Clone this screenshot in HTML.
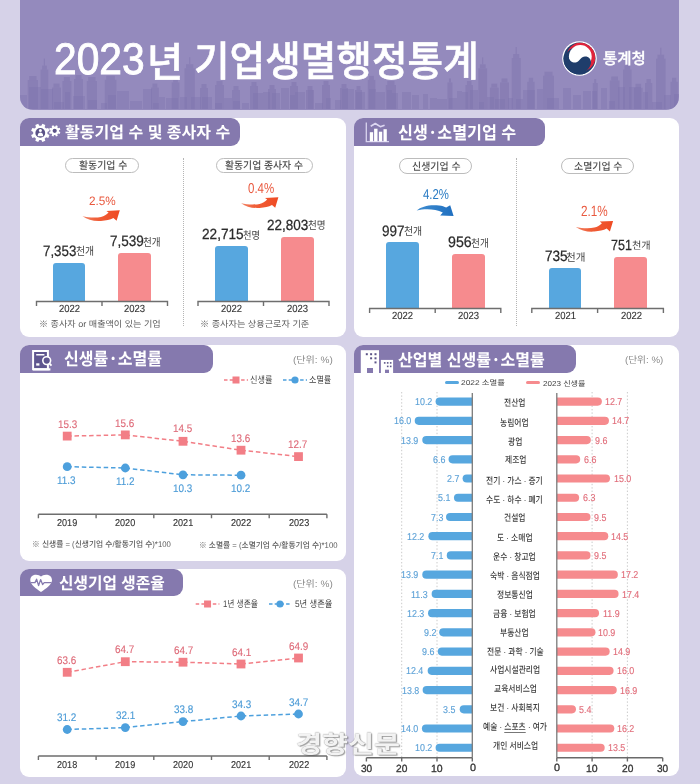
<!DOCTYPE html><html lang="ko"><head><meta charset="utf-8"><title>2023년 기업생멸행정통계</title><style>
*{margin:0;padding:0;box-sizing:border-box}
html,body{width:700px;height:784px;overflow:hidden}
body{background:#d6d2e8;position:relative;font-family:'Liberation Sans','Noto Sans CJK KR',sans-serif;color:#333333}
.a{position:absolute}
.t{position:absolute;white-space:nowrap;line-height:1;transform-origin:0 0;text-rendering:geometricPrecision}
.panel{position:absolute;background:#fff;border-radius:9px}
.tab{position:absolute;background:#8579ae}
.pill{position:absolute;border:1.6px solid #bcbcbc;border-radius:8px;background:#fff}
.bar{position:absolute;border-radius:3px 3px 0 0}
</style></head><body>
<div class="a" style="left:20px;top:-20px;width:659px;height:129.5px;background:#948abd;border-radius:0 0 13px 13px;overflow:hidden"><svg class="a" style="left:0;top:0" width="659" height="129.5" viewBox="0 0 659 129.5"><g fill="#7f74ad" opacity="0.38"><rect x="-2" y="115" width="9" height="14"/><rect x="9" y="107" width="12" height="22"/><rect x="21" y="109" width="12" height="20"/><rect x="34" y="122" width="10" height="7"/><rect x="45" y="112" width="5" height="17"/><rect x="53" y="116" width="12" height="13"/><rect x="68" y="120" width="9" height="9"/><rect x="81" y="123" width="6" height="6"/><rect x="88" y="115" width="8" height="14"/><rect x="97" y="111" width="12" height="18"/><rect x="110" y="121" width="12" height="8"/><rect x="123" y="109" width="9" height="20"/><rect x="133" y="123" width="6" height="6"/><rect x="139" y="117" width="6" height="12"/><rect x="146" y="118" width="12" height="11"/><rect x="160" y="117" width="7" height="12"/><rect x="171" y="117" width="10" height="12"/><rect x="182" y="117" width="10" height="12"/><rect x="195" y="123" width="7" height="6"/><rect x="204" y="118" width="8" height="11"/><rect x="213" y="121" width="7" height="8"/><rect x="222" y="123" width="7" height="6"/><rect x="233" y="113" width="10" height="16"/><rect x="243" y="112" width="7" height="17"/><rect x="252" y="113" width="8" height="16"/><rect x="261" y="108" width="8" height="21"/><rect x="270" y="115" width="5" height="14"/><rect x="275" y="112" width="10" height="17"/><rect x="288" y="110" width="5" height="19"/><rect x="295" y="123" width="8" height="6"/><rect x="306" y="118" width="5" height="11"/><rect x="315" y="120" width="6" height="9"/><rect x="322" y="109" width="12" height="20"/><rect x="336" y="112" width="9" height="17"/><rect x="349" y="109" width="7" height="20"/><rect x="356" y="112" width="9" height="17"/><rect x="367" y="110" width="5" height="19"/><rect x="372" y="113" width="6" height="16"/><rect x="382" y="112" width="9" height="17"/><rect x="392" y="115" width="7" height="14"/><rect x="403" y="114" width="5" height="15"/><rect x="410" y="118" width="7" height="11"/><rect x="417" y="119" width="10" height="10"/><rect x="429" y="118" width="8" height="11"/><rect x="437" y="111" width="5" height="18"/><rect x="442" y="112" width="6" height="17"/><rect x="450" y="110" width="8" height="19"/><rect x="459" y="122" width="5" height="7"/><rect x="467" y="117" width="7" height="12"/><rect x="475" y="119" width="10" height="10"/><rect x="488" y="118" width="5" height="11"/><rect x="496" y="119" width="7" height="10"/><rect x="503" y="110" width="12" height="19"/><rect x="517" y="109" width="6" height="20"/><rect x="527" y="118" width="12" height="11"/><rect x="543" y="108" width="8" height="21"/><rect x="553" y="115" width="8" height="14"/><rect x="563" y="111" width="8" height="18"/><rect x="572" y="111" width="5" height="18"/><rect x="581" y="108" width="6" height="21"/><rect x="589" y="121" width="6" height="8"/><rect x="598" y="107" width="7" height="22"/><rect x="609" y="107" width="12" height="22"/><rect x="623" y="112" width="5" height="17"/><rect x="632" y="122" width="10" height="7"/><rect x="644" y="115" width="7" height="14"/><rect x="654" y="114" width="7" height="15"/></g><g fill="#7f74ad" opacity="0.5"><rect x="7.7" y="100.0" width="10.3" height="29.0"/><rect x="9.2" y="96.0" width="7.3" height="4.2"/><rect x="20.6" y="89.6" width="7.7" height="39.4"/><rect x="22.1" y="85.6" width="4.7" height="4.2"/><rect x="23.8" y="78.6" width="1.2" height="7.2"/><rect x="32.0" y="107.6" width="9.0" height="21.4"/><rect x="33.5" y="103.6" width="6.0" height="4.2"/><rect x="42.4" y="101.0" width="9.0" height="28.0"/><rect x="43.9" y="97.0" width="6.0" height="4.2"/><rect x="54.0" y="99.0" width="9.0" height="30.0"/><rect x="55.5" y="95.0" width="6.0" height="4.2"/><rect x="66.8" y="101.0" width="10.2" height="28.0"/><rect x="68.3" y="97.0" width="7.2" height="4.2"/><rect x="84.8" y="99.8" width="11.6" height="29.2"/><rect x="86.3" y="95.8" width="8.6" height="4.2"/><rect x="131.0" y="107.6" width="7.8" height="21.4"/><rect x="132.5" y="103.6" width="4.8" height="4.2"/><rect x="151.7" y="102.4" width="7.7" height="26.6"/><rect x="153.2" y="98.4" width="4.7" height="4.2"/><rect x="164.5" y="88.3" width="10.3" height="40.7"/><rect x="166.0" y="84.3" width="7.3" height="4.2"/><rect x="169.1" y="77.3" width="1.2" height="7.2"/><rect x="180.0" y="108.0" width="8.0" height="21.0"/><rect x="181.5" y="104.0" width="5.0" height="4.2"/><rect x="195.0" y="105.0" width="9.0" height="24.0"/><rect x="196.5" y="101.0" width="6.0" height="4.2"/><rect x="212.0" y="110.0" width="8.0" height="19.0"/><rect x="213.5" y="106.0" width="5.0" height="4.2"/><rect x="230.0" y="106.0" width="8.0" height="23.0"/><rect x="231.5" y="102.0" width="5.0" height="4.2"/><rect x="248.0" y="109.0" width="8.0" height="20.0"/><rect x="249.5" y="105.0" width="5.0" height="4.2"/><rect x="270.0" y="106.0" width="8.0" height="23.0"/><rect x="271.5" y="102.0" width="5.0" height="4.2"/><rect x="286.0" y="110.0" width="8.0" height="19.0"/><rect x="287.5" y="106.0" width="5.0" height="4.2"/><rect x="302.0" y="105.0" width="8.0" height="24.0"/><rect x="303.5" y="101.0" width="5.0" height="4.2"/><rect x="320.0" y="108.0" width="8.0" height="21.0"/><rect x="321.5" y="104.0" width="5.0" height="4.2"/><rect x="335.0" y="110.0" width="7.0" height="19.0"/><rect x="336.5" y="106.0" width="4.0" height="4.2"/><rect x="347.7" y="99.8" width="7.7" height="29.2"/><rect x="349.2" y="95.8" width="4.7" height="4.2"/><rect x="365.7" y="105.0" width="10.3" height="24.0"/><rect x="367.2" y="101.0" width="7.3" height="4.2"/><rect x="427.4" y="102.4" width="5.1" height="26.6"/><rect x="428.9" y="98.4" width="2.1" height="4.2"/><rect x="445.4" y="105.0" width="7.6" height="24.0"/><rect x="446.9" y="101.0" width="4.6" height="4.2"/><rect x="458.3" y="88.3" width="8.9" height="40.7"/><rect x="459.8" y="84.3" width="5.9" height="4.2"/><rect x="462.1" y="77.3" width="1.2" height="7.2"/><rect x="469.8" y="107.6" width="9.0" height="21.4"/><rect x="471.3" y="103.6" width="6.0" height="4.2"/><rect x="480.0" y="102.4" width="9.0" height="26.6"/><rect x="481.5" y="98.4" width="6.0" height="4.2"/><rect x="491.7" y="78.0" width="9.0" height="51.0"/><rect x="493.2" y="74.0" width="6.0" height="4.2"/><rect x="495.6" y="67.0" width="1.2" height="7.2"/><rect x="507.3" y="101.8" width="7.3" height="27.2"/><rect x="508.8" y="97.8" width="4.3" height="4.2"/><rect x="523.0" y="95.7" width="11.0" height="33.3"/><rect x="524.5" y="91.7" width="8.0" height="4.2"/><rect x="572.8" y="103.0" width="4.9" height="26.0"/><rect x="574.3" y="99.0" width="1.9" height="4.2"/><rect x="589.8" y="100.5" width="9.7" height="28.5"/><rect x="591.3" y="96.5" width="6.7" height="4.2"/><rect x="603.0" y="89.6" width="8.6" height="39.4"/><rect x="604.5" y="85.6" width="5.6" height="4.2"/><rect x="606.7" y="78.6" width="1.2" height="7.2"/><rect x="614.0" y="107.8" width="8.6" height="21.2"/><rect x="615.5" y="103.8" width="5.6" height="4.2"/><rect x="625.0" y="103.0" width="7.3" height="26.0"/><rect x="626.5" y="99.0" width="4.3" height="4.2"/><rect x="636.0" y="78.7" width="9.6" height="50.3"/><rect x="637.5" y="74.7" width="6.6" height="4.2"/><rect x="640.2" y="67.7" width="1.2" height="7.2"/><rect x="650.5" y="101.8" width="7.3" height="27.2"/><rect x="652.0" y="97.8" width="4.3" height="4.2"/></g></svg></div><svg class="a" style="left:562px;top:40.5px" width="35" height="35" viewBox="-17.5 -17.5 35 35">
<defs><clipPath id="lc"><circle r="16"/></clipPath></defs>
<circle r="17.3" fill="#fff"/>
<circle r="16" fill="#1f3d6b"/>
<g clip-path="url(#lc)">
<circle cx="1.5" cy="-1.5" r="14.5" fill="#e0243c"/>
<circle cx="-1.8" cy="1.8" r="13.3" fill="#1f3d6b"/>
<circle cx="0.8" cy="-2" r="11.4" fill="#fff"/>
<path d="M-18,-3 L-11.5,-3 C-10.5,3 -6,4.8 -3,3.8 C0,2.8 1.5,-1.8 5.5,-1.9 C9.5,-2 11.6,1 11.4,4 C11.2,7.5 9,10.5 6,13 L6,18 L-18,18 Z" fill="#1f3d6b"/>
</g></svg><div class="panel" style="left:20px;top:118px;width:326px;height:219px"></div><div class="panel" style="left:354px;top:118px;width:325px;height:219px"></div><div class="panel" style="left:20px;top:345px;width:326px;height:215.5px"></div><div class="panel" style="left:20px;top:569px;width:326px;height:208px"></div><div class="panel" style="left:354px;top:345px;width:325px;height:431px"></div><div class="tab" style="left:20px;top:118px;width:219.5px;height:27.6px;border-radius:9px 9px 9px 0"></div><div class="tab" style="left:354px;top:118px;width:191px;height:28px;border-radius:9px 9px 9px 0"></div><div class="tab" style="left:20px;top:345px;width:193px;height:28px;border-radius:9px 9px 9px 0"></div><div class="tab" style="left:20px;top:569px;width:163px;height:27px;border-radius:9px 9px 9px 0"></div><div class="tab" style="left:354px;top:345px;width:222px;height:28px;border-radius:9px 9px 9px 0"></div><svg class="a" style="left:0;top:0" width="700" height="784" viewBox="0 0 700 784">
<path d="M47.43,133.91 L49.46,134.99 L48.26,137.90 L46.05,137.23 L44.63,138.65 L45.30,140.86 L42.39,142.06 L41.31,140.03 L39.29,140.03 L38.21,142.06 L35.30,140.86 L35.97,138.65 L34.55,137.23 L32.34,137.90 L31.14,134.99 L33.17,133.91 L33.17,131.89 L31.14,130.81 L32.34,127.90 L34.55,128.57 L35.97,127.15 L35.30,124.94 L38.21,123.74 L39.29,125.77 L41.31,125.77 L42.39,123.74 L45.30,124.94 L44.63,127.15 L46.05,128.57 L48.26,127.90 L49.46,130.81 L47.43,131.89Z" fill="#fff"/><circle cx="40.3" cy="132.9" r="4.9" fill="#5b5288"/>
<circle cx="40.4" cy="130.6" r="1.5" fill="#fff"/><path d="M37.6,136.2 C37.8,133.4 39,132.6 40.4,132.6 C41.8,132.6 43,133.4 43.2,136.2Z" fill="#fff"/>
<path d="M58.96,131.40 L60.35,132.09 L59.61,133.88 L58.14,133.38 L57.28,134.24 L57.78,135.71 L55.99,136.45 L55.30,135.06 L54.10,135.06 L53.41,136.45 L51.62,135.71 L52.12,134.24 L51.26,133.38 L49.79,133.88 L49.05,132.09 L50.44,131.40 L50.44,130.20 L49.05,129.51 L49.79,127.72 L51.26,128.22 L52.12,127.36 L51.62,125.89 L53.41,125.15 L54.10,126.54 L55.30,126.54 L55.99,125.15 L57.78,125.89 L57.28,127.36 L58.14,128.22 L59.61,127.72 L60.35,129.51 L58.96,130.20Z" fill="#fff"/><circle cx="54.7" cy="130.8" r="2.1" fill="#5b5288"/>
<!-- chart icon -->
<path d="M366.3,122.6 V141.6 H389" stroke="#d9d3ef" stroke-width="1.3" fill="none"/>
<rect x="369.8" y="132.2" width="3.3" height="9.2" fill="#fff"/>
<rect x="374.1" y="128.7" width="3.4" height="12.7" fill="#fff"/>
<rect x="378.9" y="131.7" width="3.3" height="9.7" fill="#fff"/>
<rect x="383.5" y="129.2" width="3.3" height="12.2" fill="#fff"/>
<path d="M370.7,126.2 L375.3,123.5 L380.3,126.7 L384.6,125.2" stroke="#ddd7f2" stroke-width="1.6" fill="none" stroke-linejoin="round"/>
<!-- doc icon -->
<path d="M33.1,351.1 H47.9 V369.3 H33.1 Z" stroke="#fff" stroke-width="2" fill="#5f568f"/>
<rect x="33" y="368.3" width="17.4" height="2.2" fill="#fff"/>
<rect x="36.2" y="354" width="8.2" height="1.5" fill="#fff"/>
<rect x="36.2" y="363.3" width="3.2" height="2.3" fill="#fff"/>
<circle cx="46.7" cy="360.6" r="3.9" fill="#5f568f" stroke="#fff" stroke-width="1.6"/>
<path d="M49.3,363.3 L51.5,365.7" stroke="#fff" stroke-width="1.8"/>
<!-- heart -->
<path d="M41,576.6 C39,573.8 30.2,573.2 30.3,580.2 C30.4,584.5 36,588.5 41,592 C46,588.5 51.9,584.5 52,580.2 C52.1,573.2 43,573.8 41,576.6Z" fill="#fff"/>
<path d="M31,582.6 H35 L36.6,579.2 L38.6,585.6 L40.6,579.6 L42.6,584.6 L44.2,582.6 H51.5" stroke="#8579ae" stroke-width="1.3" fill="none" stroke-linejoin="round"/>
<!-- buildings -->
<rect x="360.8" y="350.2" width="18.2" height="22.8" fill="#fff"/>
<rect x="380.9" y="359.9" width="12.2" height="13.1" fill="#fff"/>
<g fill="#5c5488">
<rect x="365.8" y="353.2" width="2" height="2"/><rect x="370.1" y="353.2" width="2" height="2"/><rect x="374.5" y="353.2" width="2" height="2"/>
<rect x="370.1" y="357.3" width="2" height="2"/><rect x="374.5" y="357.3" width="2" height="2"/>
<rect x="374.5" y="361.4" width="2" height="2"/>
<rect x="383.9" y="362.1" width="1.6" height="1.6"/><rect x="386.9" y="362.1" width="1.6" height="1.6"/><rect x="389.9" y="362.1" width="1.6" height="1.6"/>
<rect x="386.9" y="365.6" width="1.6" height="1.6"/><rect x="389.9" y="365.6" width="1.6" height="1.6"/>
</g>
<rect x="367" y="368" width="6" height="5" fill="#8579ae"/>
<rect x="385" y="369.7" width="4" height="3.3" fill="#8579ae"/>
</svg><div class="pill" style="left:65.2px;top:157.9px;width:73.89999999999999px;height:15.400000000000006px"></div><div class="pill" style="left:216.1px;top:158px;width:96.9px;height:15.199999999999989px"></div><div class="pill" style="left:399px;top:158.4px;width:72.60000000000002px;height:15.400000000000006px"></div><div class="pill" style="left:561.3px;top:158.4px;width:72.30000000000007px;height:15.400000000000006px"></div><div class="a" style="left:183px;top:158px;width:0;height:168px;border-left:1.2px dotted #b5b5b5"></div><div class="a" style="left:516px;top:158px;width:0;height:168px;border-left:1.2px dotted #b5b5b5"></div><div class="bar" style="left:52.5px;top:262.5px;width:32.5px;height:39.0px;background:#57a7df"></div><div class="bar" style="left:118px;top:253px;width:33px;height:48.5px;background:#f68b8e"></div><div class="bar" style="left:215px;top:246px;width:32.5px;height:55.5px;background:#57a7df"></div><div class="bar" style="left:281px;top:236.7px;width:32.5px;height:64.80000000000001px;background:#f68b8e"></div><div class="bar" style="left:386.4px;top:241.8px;width:32.30000000000001px;height:66.69999999999999px;background:#57a7df"></div><div class="bar" style="left:452px;top:254.3px;width:32.69999999999999px;height:54.19999999999999px;background:#f68b8e"></div><div class="bar" style="left:548.8px;top:267.7px;width:32.5px;height:40.80000000000001px;background:#57a7df"></div><div class="bar" style="left:614.3px;top:257.4px;width:33.10000000000002px;height:51.10000000000002px;background:#f68b8e"></div><svg class="a" style="left:0;top:0;overflow:visible" width="1" height="1"><path d="M36.5,306.0 V301.5 H167.5 V306.0 M102.0,301.5 V306.0" stroke="#6e6e6e" stroke-width="1.4" fill="none"/></svg><svg class="a" style="left:0;top:0;overflow:visible" width="1" height="1"><path d="M198,306.0 V301.5 H329 V306.0 M263.5,301.5 V306.0" stroke="#6e6e6e" stroke-width="1.4" fill="none"/></svg><svg class="a" style="left:0;top:0;overflow:visible" width="1" height="1"><path d="M369.6,313.0 V308.5 H500.8 V313.0 M435.20000000000005,308.5 V313.0" stroke="#6e6e6e" stroke-width="1.4" fill="none"/></svg><svg class="a" style="left:0;top:0;overflow:visible" width="1" height="1"><path d="M531.8,313.0 V308.5 H663.4 V313.0 M597.5999999999999,308.5 V313.0" stroke="#6e6e6e" stroke-width="1.4" fill="none"/></svg><svg class="a" style="left:0;top:0" width="700" height="400" viewBox="0 0 700 400">
<defs><linearGradient id="og" gradientUnits="userSpaceOnUse" x1="82" y1="0" x2="120" y2="0"><stop offset="0" stop-color="#f2876a"/><stop offset="0.35" stop-color="#f0603a"/><stop offset="1" stop-color="#ef4a22"/></linearGradient>
<linearGradient id="bg2" gradientUnits="userSpaceOnUse" x1="416" y1="0" x2="454" y2="0"><stop offset="0" stop-color="#3f8dd0"/><stop offset="1" stop-color="#1f6fc0"/></linearGradient></defs>
<path transform="translate(0.00,0.00)" d="M82.5,216.3 C88,217.6 96,218 101,217 C104,216.3 106.5,214.8 108.6,212.6 L106.4,211 L119.8,210.3 L116.6,220.8 L113.4,218 C110,219.8 106,220.6 101,221 C94,221.5 87.5,220 82.5,216.3Z" fill="url(#og)"/>
<g transform="translate(158.6,-13.1)"><path transform="translate(0.00,0.00)" d="M82.5,216.3 C88,217.6 96,218 101,217 C104,216.3 106.5,214.8 108.6,212.6 L106.4,211 L119.8,210.3 L116.6,220.8 L113.4,218 C110,219.8 106,220.6 101,221 C94,221.5 87.5,220 82.5,216.3Z" fill="url(#og)"/></g>
<g transform="translate(493.3,10.6)"><path transform="translate(0.00,0.00)" d="M82.5,216.3 C88,217.6 96,218 101,217 C104,216.3 106.5,214.8 108.6,212.6 L106.4,211 L119.8,210.3 L116.6,220.8 L113.4,218 C110,219.8 106,220.6 101,221 C94,221.5 87.5,220 82.5,216.3Z" fill="url(#og)"/></g>
<path d="M416.6,210.6 C421,206.6 430,204.4 439,205.6 C442,206 444.5,206.8 446.2,207.6 L450.2,205.2 L453.6,216 L440.2,215.6 L442.8,212.4 C435,208.8 425,208.4 416.6,210.6Z" fill="url(#bg2)"/>
</svg><svg class="a" style="left:0;top:0;overflow:visible" width="1" height="1"><path d="M224,380 H248" stroke="#f27e86" stroke-width="1.3" stroke-dasharray="3.5 2.2" fill="none"/><rect x="232.5" y="376.5" width="7" height="7" fill="#f27e86"/></svg><svg class="a" style="left:0;top:0;overflow:visible" width="1" height="1"><path d="M283,380 H307" stroke="#4da0dd" stroke-width="1.3" stroke-dasharray="3.5 2.2" fill="none"/><circle cx="295.0" cy="380" r="3.6" fill="#4da0dd"/></svg><svg class="a" style="left:0;top:0;overflow:visible" width="1" height="1"><path d="M195.7,604 H219.4" stroke="#f27e86" stroke-width="1.3" stroke-dasharray="3.5 2.2" fill="none"/><rect x="204.05" y="600.5" width="7" height="7" fill="#f27e86"/></svg><svg class="a" style="left:0;top:0;overflow:visible" width="1" height="1"><path d="M269,604 H291" stroke="#4da0dd" stroke-width="1.3" stroke-dasharray="3.5 2.2" fill="none"/><circle cx="280.0" cy="604" r="3.6" fill="#4da0dd"/></svg><svg class="a" style="left:0;top:0;overflow:visible" width="1" height="1"><path d="M38.4,514.3 H326.9 M38.4,514.3 V518.3 M96.1,514.3 V518.3 M153.8,514.3 V518.3 M211.5,514.3 V518.3 M269.2,514.3 V518.3 M326.9,514.3 V518.3" stroke="#6e6e6e" stroke-width="1.4" fill="none"/></svg><svg class="a" style="left:0;top:0;overflow:visible" width="1" height="1"><path d="M38.4,756 H326.9 M38.4,756 V760 M96.1,756 V760 M153.8,756 V760 M211.5,756 V760 M269.2,756 V760 M326.9,756 V760" stroke="#6e6e6e" stroke-width="1.4" fill="none"/></svg><svg class="a" style="left:0;top:0;overflow:visible" width="1" height="1"><path d="M67.2,436.1 L125.3,434.9 L183.0,441.3 L241.0,450.2 L298.5,456.6" stroke="#f27e86" stroke-width="1.5" stroke-dasharray="4.5 2.8" fill="none"/><rect x="62.8" y="431.7" width="8.8" height="8.8" fill="#f27e86"/><rect x="120.9" y="430.5" width="8.8" height="8.8" fill="#f27e86"/><rect x="178.6" y="436.9" width="8.8" height="8.8" fill="#f27e86"/><rect x="236.6" y="445.8" width="8.8" height="8.8" fill="#f27e86"/><rect x="294.1" y="452.2" width="8.8" height="8.8" fill="#f27e86"/></svg><svg class="a" style="left:0;top:0;overflow:visible" width="1" height="1"><path d="M67.2,466.7 L125.3,468.0 L183.0,474.8 L241.0,475.2" stroke="#4da0dd" stroke-width="1.5" stroke-dasharray="4.5 2.8" fill="none"/><circle cx="67.2" cy="466.7" r="4.4" fill="#4da0dd"/><circle cx="125.3" cy="468" r="4.4" fill="#4da0dd"/><circle cx="183" cy="474.8" r="4.4" fill="#4da0dd"/><circle cx="241" cy="475.2" r="4.4" fill="#4da0dd"/></svg><svg class="a" style="left:0;top:0;overflow:visible" width="1" height="1"><path d="M67.2,672.3 L125.3,661.7 L183.0,662.2 L241.0,664.0 L298.5,658.0" stroke="#f27e86" stroke-width="1.5" stroke-dasharray="4.5 2.8" fill="none"/><rect x="62.8" y="667.9" width="8.8" height="8.8" fill="#f27e86"/><rect x="120.9" y="657.3" width="8.8" height="8.8" fill="#f27e86"/><rect x="178.6" y="657.8" width="8.8" height="8.8" fill="#f27e86"/><rect x="236.6" y="659.6" width="8.8" height="8.8" fill="#f27e86"/><rect x="294.1" y="653.6" width="8.8" height="8.8" fill="#f27e86"/></svg><svg class="a" style="left:0;top:0;overflow:visible" width="1" height="1"><path d="M67.2,729.5 L125.3,727.6 L183.0,721.6 L241.0,716.0 L298.5,714.0" stroke="#4da0dd" stroke-width="1.5" stroke-dasharray="4.5 2.8" fill="none"/><circle cx="67.2" cy="729.5" r="4.4" fill="#4da0dd"/><circle cx="125.3" cy="727.6" r="4.4" fill="#4da0dd"/><circle cx="183" cy="721.6" r="4.4" fill="#4da0dd"/><circle cx="241" cy="716" r="4.4" fill="#4da0dd"/><circle cx="298.5" cy="714" r="4.4" fill="#4da0dd"/></svg><div class="a" style="left:444.6px;top:380.6px;width:14.4px;height:3.6px;border-radius:2px;background:#57a7df"></div><div class="a" style="left:526px;top:380.6px;width:14.4px;height:3.6px;border-radius:2px;background:#f68b8e"></div><svg class="a" style="left:0;top:0" width="700" height="784" viewBox="0 0 700 784"><path d="M437.0,392 V757" stroke="#c4c4c4" stroke-width="0.9" stroke-dasharray="1.4 2" fill="none"/><path d="M401.7,392 V757" stroke="#c4c4c4" stroke-width="0.9" stroke-dasharray="1.4 2" fill="none"/><path d="M592.1,392 V757" stroke="#c4c4c4" stroke-width="0.9" stroke-dasharray="1.4 2" fill="none"/><path d="M627.4,392 V757" stroke="#c4c4c4" stroke-width="0.9" stroke-dasharray="1.4 2" fill="none"/><path d="M472.3,397.50 H439.68 A4.1,4.1 0 0 0 439.68,405.70 H472.3Z" fill="#57a7df"/><path d="M556.8,397.50 H597.78 A4.1,4.1 0 0 1 597.78,405.70 H556.8Z" fill="#f68b8e"/><path d="M472.3,416.73 H418.80 A4.1,4.1 0 0 0 418.80,424.93 H472.3Z" fill="#57a7df"/><path d="M556.8,416.73 H604.88 A4.1,4.1 0 0 1 604.88,424.93 H556.8Z" fill="#f68b8e"/><path d="M472.3,435.96 H426.36 A4.1,4.1 0 0 0 426.36,444.16 H472.3Z" fill="#57a7df"/><path d="M556.8,435.96 H586.78 A4.1,4.1 0 0 1 586.78,444.16 H556.8Z" fill="#f68b8e"/><path d="M472.3,455.19 H452.64 A4.1,4.1 0 0 0 452.64,463.39 H472.3Z" fill="#57a7df"/><path d="M556.8,455.19 H576.13 A4.1,4.1 0 0 1 576.13,463.39 H556.8Z" fill="#f68b8e"/><path d="M472.3,474.42 H466.68 A4.1,4.1 0 0 0 466.68,482.62 H472.3Z" fill="#57a7df"/><path d="M556.8,474.42 H605.95 A4.1,4.1 0 0 1 605.95,482.62 H556.8Z" fill="#f68b8e"/><path d="M472.3,493.65 H458.04 A4.1,4.1 0 0 0 458.04,501.85 H472.3Z" fill="#57a7df"/><path d="M556.8,493.65 H575.06 A4.1,4.1 0 0 1 575.06,501.85 H556.8Z" fill="#f68b8e"/><path d="M472.3,512.88 H450.12 A4.1,4.1 0 0 0 450.12,521.08 H472.3Z" fill="#57a7df"/><path d="M556.8,512.88 H586.42 A4.1,4.1 0 0 1 586.42,521.08 H556.8Z" fill="#f68b8e"/><path d="M472.3,532.11 H432.48 A4.1,4.1 0 0 0 432.48,540.31 H472.3Z" fill="#57a7df"/><path d="M556.8,532.11 H604.17 A4.1,4.1 0 0 1 604.17,540.31 H556.8Z" fill="#f68b8e"/><path d="M472.3,551.34 H450.84 A4.1,4.1 0 0 0 450.84,559.54 H472.3Z" fill="#57a7df"/><path d="M556.8,551.34 H586.42 A4.1,4.1 0 0 1 586.42,559.54 H556.8Z" fill="#f68b8e"/><path d="M472.3,570.57 H426.36 A4.1,4.1 0 0 0 426.36,578.77 H472.3Z" fill="#57a7df"/><path d="M556.8,570.57 H613.76 A4.1,4.1 0 0 1 613.76,578.77 H556.8Z" fill="#f68b8e"/><path d="M472.3,589.80 H435.72 A4.1,4.1 0 0 0 435.72,598.00 H472.3Z" fill="#57a7df"/><path d="M556.8,589.80 H614.47 A4.1,4.1 0 0 1 614.47,598.00 H556.8Z" fill="#f68b8e"/><path d="M472.3,609.03 H432.12 A4.1,4.1 0 0 0 432.12,617.23 H472.3Z" fill="#57a7df"/><path d="M556.8,609.03 H594.94 A4.1,4.1 0 0 1 594.94,617.23 H556.8Z" fill="#f68b8e"/><path d="M472.3,628.26 H443.28 A4.1,4.1 0 0 0 443.28,636.46 H472.3Z" fill="#57a7df"/><path d="M556.8,628.26 H591.39 A4.1,4.1 0 0 1 591.39,636.46 H556.8Z" fill="#f68b8e"/><path d="M472.3,647.49 H441.84 A4.1,4.1 0 0 0 441.84,655.69 H472.3Z" fill="#57a7df"/><path d="M556.8,647.49 H605.59 A4.1,4.1 0 0 1 605.59,655.69 H556.8Z" fill="#f68b8e"/><path d="M472.3,666.72 H431.76 A4.1,4.1 0 0 0 431.76,674.92 H472.3Z" fill="#57a7df"/><path d="M556.8,666.72 H609.50 A4.1,4.1 0 0 1 609.50,674.92 H556.8Z" fill="#f68b8e"/><path d="M472.3,685.95 H426.72 A4.1,4.1 0 0 0 426.72,694.15 H472.3Z" fill="#57a7df"/><path d="M556.8,685.95 H612.69 A4.1,4.1 0 0 1 612.69,694.15 H556.8Z" fill="#f68b8e"/><path d="M472.3,705.18 H463.80 A4.1,4.1 0 0 0 463.80,713.38 H472.3Z" fill="#57a7df"/><path d="M556.8,705.18 H571.87 A4.1,4.1 0 0 1 571.87,713.38 H556.8Z" fill="#f68b8e"/><path d="M472.3,724.41 H426.00 A4.1,4.1 0 0 0 426.00,732.61 H472.3Z" fill="#57a7df"/><path d="M556.8,724.41 H610.21 A4.1,4.1 0 0 1 610.21,732.61 H556.8Z" fill="#f68b8e"/><path d="M472.3,743.64 H439.68 A4.1,4.1 0 0 0 439.68,751.84 H472.3Z" fill="#57a7df"/><path d="M556.8,743.64 H600.62 A4.1,4.1 0 0 1 600.62,751.84 H556.8Z" fill="#f68b8e"/><path d="M472.3,393 V757.7 M556.8,393 V757.7" stroke="#7a7a7a" stroke-width="1.3" fill="none"/><path d="M366.4,757.7 H472.3 M556.8,757.7 H662.7 M472.3,757.7 V761.5 M437.0,757.7 V761.5 M401.7,757.7 V761.5 M366.4,757.7 V761.5 M556.8,757.7 V761.5 M592.1,757.7 V761.5 M627.4,757.7 V761.5 M662.7,757.7 V761.5" stroke="#6a6a6a" stroke-width="1.4" fill="none"/></svg><div class="t" style="left:54.46px;top:38.01px;font-size:44.23px;font-family:'Liberation Sans',sans-serif;font-weight:400;color:#ffffff;letter-spacing:0em;transform:scaleX(0.921);-webkit-text-stroke:0.9px #fff;">2023</div><div class="t" style="left:147.22px;top:39.51px;font-size:40.90px;font-family:'Noto Sans CJK KR',sans-serif;font-weight:500;color:#ffffff;letter-spacing:0em;transform:scaleX(0.961);-webkit-text-stroke:0.6px #fff;">년</div><div class="t" style="left:194.43px;top:38.46px;font-size:41.43px;font-family:'Noto Sans CJK KR',sans-serif;font-weight:500;color:#ffffff;letter-spacing:0em;transform:scaleX(0.934);-webkit-text-stroke:0.6px #fff;">기업생멸행정통계</div><div class="t" style="left:603.38px;top:49.83px;font-size:15.71px;font-family:'Noto Sans CJK KR',sans-serif;font-weight:500;color:#ffffff;letter-spacing:0em;transform:scaleX(0.986);-webkit-text-stroke:0.3px #fff;">통계청</div><div class="t" style="left:65.07px;top:122.55px;font-size:16.13px;font-family:'Noto Sans CJK KR',sans-serif;font-weight:700;color:#ffffff;letter-spacing:0em;transform:scaleX(0.994);">활동기업 수 및 종사자 수</div><div class="t" style="left:397.80px;top:124.42px;font-size:17.53px;font-family:'Noto Sans CJK KR',sans-serif;font-weight:700;color:#ffffff;letter-spacing:0em;transform:scaleX(0.924);">신생<span style="margin:0 0.13em">·</span>소멸기업 수</div><div class="t" style="left:64.31px;top:349.45px;font-size:17.20px;font-family:'Noto Sans CJK KR',sans-serif;font-weight:700;color:#ffffff;letter-spacing:0em;transform:scaleX(0.934);">신생률<span style="margin:0 0.13em">·</span>소멸률</div><div class="t" style="left:59.42px;top:574.12px;font-size:16.45px;font-family:'Noto Sans CJK KR',sans-serif;font-weight:700;color:#ffffff;letter-spacing:0em;transform:scaleX(0.957);">신생기업 생존율</div><div class="t" style="left:398.07px;top:351.48px;font-size:16.88px;font-family:'Noto Sans CJK KR',sans-serif;font-weight:700;color:#ffffff;letter-spacing:0em;transform:scaleX(0.952);">산업별 신생률<span style="margin:0 0.13em">·</span>소멸률</div><div class="t" style="left:78.75px;top:161.45px;font-size:10.54px;font-family:'Noto Sans CJK KR',sans-serif;font-weight:500;color:#505050;letter-spacing:0em;transform:scaleX(0.941);">활동기업 수</div><div class="t" style="left:225.41px;top:161.26px;font-size:10.43px;font-family:'Noto Sans CJK KR',sans-serif;font-weight:500;color:#505050;letter-spacing:0em;transform:scaleX(0.945);">활동기업 종사자 수</div><div class="t" style="left:411.95px;top:160.58px;font-size:10.22px;font-family:'Noto Sans CJK KR',sans-serif;font-weight:500;color:#505050;letter-spacing:0em;transform:scaleX(0.974);">신생기업 수</div><div class="t" style="left:574.05px;top:160.58px;font-size:10.22px;font-family:'Noto Sans CJK KR',sans-serif;font-weight:500;color:#505050;letter-spacing:0em;transform:scaleX(0.972);">소멸기업 수</div><div class="t" style="left:43.18px;top:244.49px;font-size:15.07px;font-family:'Liberation Sans',sans-serif;font-weight:400;color:#2b2b2b;letter-spacing:0em;transform:scaleX(0.884);-webkit-text-stroke:0.25px #2b2b2b;">7,353</div><div class="t" style="left:76.46px;top:246.09px;font-size:11.10px;font-family:'Noto Sans CJK KR',sans-serif;font-weight:400;color:#444;letter-spacing:0em;transform:scaleX(0.890);">천개</div><div class="t" style="left:109.82px;top:234.29px;font-size:15.07px;font-family:'Liberation Sans',sans-serif;font-weight:400;color:#2b2b2b;letter-spacing:0em;transform:scaleX(0.898);-webkit-text-stroke:0.25px #2b2b2b;">7,539</div><div class="t" style="left:142.82px;top:236.70px;font-size:10.99px;font-family:'Noto Sans CJK KR',sans-serif;font-weight:400;color:#444;letter-spacing:0em;transform:scaleX(0.872);">천개</div><div class="t" style="left:201.57px;top:227.93px;font-size:14.79px;font-family:'Liberation Sans',sans-serif;font-weight:400;color:#2b2b2b;letter-spacing:0em;transform:scaleX(0.922);-webkit-text-stroke:0.25px #2b2b2b;">22,715</div><div class="t" style="left:242.79px;top:230.94px;font-size:10.56px;font-family:'Noto Sans CJK KR',sans-serif;font-weight:400;color:#444;letter-spacing:0em;transform:scaleX(0.879);">천명</div><div class="t" style="left:267.32px;top:218.53px;font-size:14.79px;font-family:'Liberation Sans',sans-serif;font-weight:400;color:#2b2b2b;letter-spacing:0em;transform:scaleX(0.914);-webkit-text-stroke:0.25px #2b2b2b;">22,803</div><div class="t" style="left:308.02px;top:219.91px;font-size:10.89px;font-family:'Noto Sans CJK KR',sans-serif;font-weight:400;color:#444;letter-spacing:0em;transform:scaleX(0.880);">천명</div><div class="t" style="left:382.02px;top:224.09px;font-size:15.07px;font-family:'Liberation Sans',sans-serif;font-weight:400;color:#2b2b2b;letter-spacing:0em;transform:scaleX(0.896);-webkit-text-stroke:0.25px #2b2b2b;">997</div><div class="t" style="left:404.06px;top:225.50px;font-size:10.99px;font-family:'Noto Sans CJK KR',sans-serif;font-weight:400;color:#444;letter-spacing:0em;transform:scaleX(0.899);">천개</div><div class="t" style="left:447.84px;top:235.47px;font-size:15.21px;font-family:'Liberation Sans',sans-serif;font-weight:400;color:#2b2b2b;letter-spacing:0em;transform:scaleX(0.934);-webkit-text-stroke:0.25px #2b2b2b;">956</div><div class="t" style="left:470.91px;top:238.52px;font-size:10.77px;font-family:'Noto Sans CJK KR',sans-serif;font-weight:400;color:#444;letter-spacing:0em;transform:scaleX(0.901);">천개</div><div class="t" style="left:544.77px;top:250.11px;font-size:14.93px;font-family:'Liberation Sans',sans-serif;font-weight:400;color:#2b2b2b;letter-spacing:0em;transform:scaleX(0.911);-webkit-text-stroke:0.25px #2b2b2b;">735</div><div class="t" style="left:566.12px;top:252.93px;font-size:10.66px;font-family:'Noto Sans CJK KR',sans-serif;font-weight:400;color:#444;letter-spacing:0em;transform:scaleX(0.994);">천개</div><div class="t" style="left:610.62px;top:239.39px;font-size:14.71px;font-family:'Liberation Sans',sans-serif;font-weight:400;color:#2b2b2b;letter-spacing:0em;transform:scaleX(0.853);-webkit-text-stroke:0.25px #2b2b2b;">751</div><div class="t" style="left:631.79px;top:240.37px;font-size:10.33px;font-family:'Noto Sans CJK KR',sans-serif;font-weight:400;color:#444;letter-spacing:0em;transform:scaleX(0.985);">천개</div><div class="t" style="left:59.05px;top:305.35px;font-size:10.34px;font-family:'Liberation Sans',sans-serif;font-weight:400;color:#333;letter-spacing:0em;transform:scaleX(0.920);-webkit-text-stroke:0.12px #333;">2022</div><div class="t" style="left:124.40px;top:305.35px;font-size:10.34px;font-family:'Liberation Sans',sans-serif;font-weight:400;color:#333;letter-spacing:0em;transform:scaleX(0.920);-webkit-text-stroke:0.12px #333;">2023</div><div class="t" style="left:221.45px;top:305.35px;font-size:10.34px;font-family:'Liberation Sans',sans-serif;font-weight:400;color:#333;letter-spacing:0em;transform:scaleX(0.920);-webkit-text-stroke:0.12px #333;">2022</div><div class="t" style="left:286.90px;top:305.35px;font-size:10.34px;font-family:'Liberation Sans',sans-serif;font-weight:400;color:#333;letter-spacing:0em;transform:scaleX(0.920);-webkit-text-stroke:0.12px #333;">2023</div><div class="t" style="left:392.45px;top:311.55px;font-size:10.34px;font-family:'Liberation Sans',sans-serif;font-weight:400;color:#333;letter-spacing:0em;transform:scaleX(0.920);-webkit-text-stroke:0.12px #333;">2022</div><div class="t" style="left:458.30px;top:311.55px;font-size:10.34px;font-family:'Liberation Sans',sans-serif;font-weight:400;color:#333;letter-spacing:0em;transform:scaleX(0.920);-webkit-text-stroke:0.12px #333;">2023</div><div class="t" style="left:555.05px;top:311.55px;font-size:10.34px;font-family:'Liberation Sans',sans-serif;font-weight:400;color:#333;letter-spacing:0em;transform:scaleX(0.920);-webkit-text-stroke:0.12px #333;">2021</div><div class="t" style="left:621.05px;top:311.55px;font-size:10.34px;font-family:'Liberation Sans',sans-serif;font-weight:400;color:#333;letter-spacing:0em;transform:scaleX(0.920);-webkit-text-stroke:0.12px #333;">2022</div><div class="t" style="left:38.88px;top:319.51px;font-size:8.79px;font-family:'Liberation Sans','Noto Sans CJK KR',sans-serif;font-weight:400;color:#5a5a5a;letter-spacing:0em;transform:scaleX(1.034);">※ 종사자 or 매출액이 있는 기업</div><div class="t" style="left:199.52px;top:319.51px;font-size:8.79px;font-family:'Liberation Sans','Noto Sans CJK KR',sans-serif;font-weight:400;color:#5a5a5a;letter-spacing:0em;transform:scaleX(1.041);">※ 종사자는 상용근로자 기준</div><div class="t" style="left:88.76px;top:194.88px;font-size:12.25px;font-family:'Liberation Sans',sans-serif;font-weight:400;color:#e9583e;letter-spacing:0em;transform:scaleX(0.958);-webkit-text-stroke:0.1px transparent;">2.5%</div><div class="t" style="left:247.79px;top:181.59px;font-size:14.37px;font-family:'Liberation Sans',sans-serif;font-weight:400;color:#e9583e;letter-spacing:0em;transform:scaleX(0.800);-webkit-text-stroke:0.1px transparent;">0.4%</div><div class="t" style="left:422.72px;top:188.20px;font-size:14.29px;font-family:'Liberation Sans',sans-serif;font-weight:400;color:#2a7cc4;letter-spacing:0em;transform:scaleX(0.798);-webkit-text-stroke:0.1px transparent;">4.2%</div><div class="t" style="left:581.36px;top:204.92px;font-size:14.86px;font-family:'Liberation Sans',sans-serif;font-weight:400;color:#e9583e;letter-spacing:0em;transform:scaleX(0.790);-webkit-text-stroke:0.1px transparent;">2.1%</div><div class="t" style="left:292.50px;top:356.31px;font-size:9.45px;font-family:'Liberation Sans','Noto Sans CJK KR',sans-serif;font-weight:400;color:#8a8a8a;letter-spacing:0em;transform:scaleX(1.066);">(단위: %)</div><div class="t" style="left:292.50px;top:580.31px;font-size:9.45px;font-family:'Liberation Sans','Noto Sans CJK KR',sans-serif;font-weight:400;color:#8a8a8a;letter-spacing:0em;transform:scaleX(1.066);">(단위: %)</div><div class="t" style="left:250.26px;top:374.97px;font-size:9.33px;font-family:'Noto Sans CJK KR',sans-serif;font-weight:400;color:#444;letter-spacing:0em;transform:scaleX(0.870);">신생률</div><div class="t" style="left:309.35px;top:375.08px;font-size:9.22px;font-family:'Noto Sans CJK KR',sans-serif;font-weight:400;color:#444;letter-spacing:0em;transform:scaleX(0.876);">소멸률</div><div class="t" style="left:222.83px;top:599.81px;font-size:9.33px;font-family:'Liberation Sans','Noto Sans CJK KR',sans-serif;font-weight:400;color:#444;letter-spacing:0em;transform:scaleX(0.830);">1년 생존율</div><div class="t" style="left:295.27px;top:599.81px;font-size:9.33px;font-family:'Liberation Sans','Noto Sans CJK KR',sans-serif;font-weight:400;color:#444;letter-spacing:0em;transform:scaleX(0.888);">5년 생존율</div><div class="t" style="left:57.24px;top:519.21px;font-size:9.90px;font-family:'Liberation Sans',sans-serif;font-weight:400;color:#333;letter-spacing:0em;transform:scaleX(0.920);-webkit-text-stroke:0.12px #333;">2019</div><div class="t" style="left:115.44px;top:519.21px;font-size:9.90px;font-family:'Liberation Sans',sans-serif;font-weight:400;color:#333;letter-spacing:0em;transform:scaleX(0.920);-webkit-text-stroke:0.12px #333;">2020</div><div class="t" style="left:172.89px;top:519.21px;font-size:9.90px;font-family:'Liberation Sans',sans-serif;font-weight:400;color:#333;letter-spacing:0em;transform:scaleX(0.920);-webkit-text-stroke:0.12px #333;">2021</div><div class="t" style="left:230.89px;top:519.21px;font-size:9.90px;font-family:'Liberation Sans',sans-serif;font-weight:400;color:#333;letter-spacing:0em;transform:scaleX(0.920);-webkit-text-stroke:0.12px #333;">2022</div><div class="t" style="left:288.84px;top:519.21px;font-size:9.90px;font-family:'Liberation Sans',sans-serif;font-weight:400;color:#333;letter-spacing:0em;transform:scaleX(0.920);-webkit-text-stroke:0.12px #333;">2023</div><div class="t" style="left:57.24px;top:760.61px;font-size:9.90px;font-family:'Liberation Sans',sans-serif;font-weight:400;color:#333;letter-spacing:0em;transform:scaleX(0.920);-webkit-text-stroke:0.12px #333;">2018</div><div class="t" style="left:115.44px;top:760.61px;font-size:9.90px;font-family:'Liberation Sans',sans-serif;font-weight:400;color:#333;letter-spacing:0em;transform:scaleX(0.920);-webkit-text-stroke:0.12px #333;">2019</div><div class="t" style="left:172.84px;top:760.61px;font-size:9.90px;font-family:'Liberation Sans',sans-serif;font-weight:400;color:#333;letter-spacing:0em;transform:scaleX(0.920);-webkit-text-stroke:0.12px #333;">2020</div><div class="t" style="left:230.89px;top:760.61px;font-size:9.90px;font-family:'Liberation Sans',sans-serif;font-weight:400;color:#333;letter-spacing:0em;transform:scaleX(0.920);-webkit-text-stroke:0.12px #333;">2021</div><div class="t" style="left:288.89px;top:760.61px;font-size:9.90px;font-family:'Liberation Sans',sans-serif;font-weight:400;color:#333;letter-spacing:0em;transform:scaleX(0.920);-webkit-text-stroke:0.12px #333;">2022</div><div class="t" style="left:31.77px;top:541.40px;font-size:8.26px;font-family:'Liberation Sans','Noto Sans CJK KR',sans-serif;font-weight:500;color:#5a5a5a;letter-spacing:0em;transform:scaleX(0.938);">※ 신생률 = (신생기업 수/활동기업 수)*100</div><div class="t" style="left:199.22px;top:541.80px;font-size:8.26px;font-family:'Liberation Sans','Noto Sans CJK KR',sans-serif;font-weight:500;color:#5a5a5a;letter-spacing:0em;transform:scaleX(0.936);">※ 소멸률 = (소멸기업 수/활동기업 수)*100</div><div class="t" style="left:57.60px;top:420.06px;font-size:11.00px;font-family:'Liberation Sans',sans-serif;font-weight:400;color:#de6a78;letter-spacing:0em;transform:scaleX(0.900);-webkit-text-stroke:0.12px #de6a78;">15.3</div><div class="t" style="left:114.80px;top:418.66px;font-size:11.00px;font-family:'Liberation Sans',sans-serif;font-weight:400;color:#de6a78;letter-spacing:0em;transform:scaleX(0.900);-webkit-text-stroke:0.12px #de6a78;">15.6</div><div class="t" style="left:173.20px;top:424.35px;font-size:11.00px;font-family:'Liberation Sans',sans-serif;font-weight:400;color:#de6a78;letter-spacing:0em;transform:scaleX(0.900);-webkit-text-stroke:0.12px #de6a78;">14.5</div><div class="t" style="left:231.20px;top:434.26px;font-size:11.00px;font-family:'Liberation Sans',sans-serif;font-weight:400;color:#de6a78;letter-spacing:0em;transform:scaleX(0.900);-webkit-text-stroke:0.12px #de6a78;">13.6</div><div class="t" style="left:288.20px;top:440.06px;font-size:11.00px;font-family:'Liberation Sans',sans-serif;font-weight:400;color:#de6a78;letter-spacing:0em;transform:scaleX(0.900);-webkit-text-stroke:0.12px #de6a78;">12.7</div><div class="t" style="left:57.45px;top:475.86px;font-size:11.00px;font-family:'Liberation Sans',sans-serif;font-weight:400;color:#4a9ad6;letter-spacing:0em;transform:scaleX(0.900);-webkit-text-stroke:0.12px #4a9ad6;">11.3</div><div class="t" style="left:115.70px;top:477.46px;font-size:11.00px;font-family:'Liberation Sans',sans-serif;font-weight:400;color:#4a9ad6;letter-spacing:0em;transform:scaleX(0.900);-webkit-text-stroke:0.12px #4a9ad6;">11.2</div><div class="t" style="left:173.20px;top:484.06px;font-size:11.00px;font-family:'Liberation Sans',sans-serif;font-weight:400;color:#4a9ad6;letter-spacing:0em;transform:scaleX(0.900);-webkit-text-stroke:0.12px #4a9ad6;">10.3</div><div class="t" style="left:231.20px;top:483.86px;font-size:11.00px;font-family:'Liberation Sans',sans-serif;font-weight:400;color:#4a9ad6;letter-spacing:0em;transform:scaleX(0.900);-webkit-text-stroke:0.12px #4a9ad6;">10.2</div><div class="t" style="left:57.25px;top:656.46px;font-size:11.00px;font-family:'Liberation Sans',sans-serif;font-weight:400;color:#de6a78;letter-spacing:0em;transform:scaleX(0.900);-webkit-text-stroke:0.12px #de6a78;">63.6</div><div class="t" style="left:115.45px;top:645.26px;font-size:11.00px;font-family:'Liberation Sans',sans-serif;font-weight:400;color:#de6a78;letter-spacing:0em;transform:scaleX(0.900);-webkit-text-stroke:0.12px #de6a78;">64.7</div><div class="t" style="left:173.85px;top:646.26px;font-size:11.00px;font-family:'Liberation Sans',sans-serif;font-weight:400;color:#de6a78;letter-spacing:0em;transform:scaleX(0.900);-webkit-text-stroke:0.12px #de6a78;">64.7</div><div class="t" style="left:231.85px;top:647.86px;font-size:11.00px;font-family:'Liberation Sans',sans-serif;font-weight:400;color:#de6a78;letter-spacing:0em;transform:scaleX(0.900);-webkit-text-stroke:0.12px #de6a78;">64.1</div><div class="t" style="left:288.85px;top:641.86px;font-size:11.00px;font-family:'Liberation Sans',sans-serif;font-weight:400;color:#de6a78;letter-spacing:0em;transform:scaleX(0.900);-webkit-text-stroke:0.12px #de6a78;">64.9</div><div class="t" style="left:57.30px;top:712.86px;font-size:11.00px;font-family:'Liberation Sans',sans-serif;font-weight:400;color:#4a9ad6;letter-spacing:0em;transform:scaleX(0.900);-webkit-text-stroke:0.12px #4a9ad6;">31.2</div><div class="t" style="left:115.50px;top:711.06px;font-size:11.00px;font-family:'Liberation Sans',sans-serif;font-weight:400;color:#4a9ad6;letter-spacing:0em;transform:scaleX(0.900);-webkit-text-stroke:0.12px #4a9ad6;">32.1</div><div class="t" style="left:173.90px;top:705.06px;font-size:11.00px;font-family:'Liberation Sans',sans-serif;font-weight:400;color:#4a9ad6;letter-spacing:0em;transform:scaleX(0.900);-webkit-text-stroke:0.12px #4a9ad6;">33.8</div><div class="t" style="left:231.90px;top:699.86px;font-size:11.00px;font-family:'Liberation Sans',sans-serif;font-weight:400;color:#4a9ad6;letter-spacing:0em;transform:scaleX(0.900);-webkit-text-stroke:0.12px #4a9ad6;">34.3</div><div class="t" style="left:288.90px;top:697.86px;font-size:11.00px;font-family:'Liberation Sans',sans-serif;font-weight:400;color:#4a9ad6;letter-spacing:0em;transform:scaleX(0.900);-webkit-text-stroke:0.12px #4a9ad6;">34.7</div><div class="t" style="left:625.47px;top:355.51px;font-size:9.45px;font-family:'Liberation Sans','Noto Sans CJK KR',sans-serif;font-weight:400;color:#8a8a8a;letter-spacing:0em;transform:scaleX(1.025);">(단위: %)</div><div class="t" style="left:460.78px;top:380.13px;font-size:7.11px;font-family:'Liberation Sans','Noto Sans CJK KR',sans-serif;font-weight:400;color:#444;letter-spacing:0em;transform:scaleX(1.172);">2022 소멸률</div><div class="t" style="left:542.70px;top:380.06px;font-size:7.19px;font-family:'Liberation Sans','Noto Sans CJK KR',sans-serif;font-weight:400;color:#444;letter-spacing:0em;transform:scaleX(1.121);">2023 신생률</div><div class="t" style="left:414.55px;top:398.00px;font-size:10.00px;font-family:'Liberation Sans',sans-serif;font-weight:400;color:#5ba0d6;letter-spacing:0em;transform:scaleX(0.890);-webkit-text-stroke:0.12px #5ba0d6;">10.2</div><div class="t" style="left:605.16px;top:398.00px;font-size:10.00px;font-family:'Liberation Sans',sans-serif;font-weight:400;color:#e06b78;letter-spacing:0em;transform:scaleX(0.890);-webkit-text-stroke:0.12px #e06b78;">12.7</div><div class="t" style="left:393.66px;top:417.46px;font-size:10.00px;font-family:'Liberation Sans',sans-serif;font-weight:400;color:#5ba0d6;letter-spacing:0em;transform:scaleX(0.890);-webkit-text-stroke:0.12px #5ba0d6;">16.0</div><div class="t" style="left:612.36px;top:417.36px;font-size:10.00px;font-family:'Liberation Sans',sans-serif;font-weight:400;color:#e06b78;letter-spacing:0em;transform:scaleX(0.890);-webkit-text-stroke:0.12px #e06b78;">14.7</div><div class="t" style="left:400.91px;top:436.92px;font-size:10.00px;font-family:'Liberation Sans',sans-serif;font-weight:400;color:#5ba0d6;letter-spacing:0em;transform:scaleX(0.890);-webkit-text-stroke:0.12px #5ba0d6;">13.9</div><div class="t" style="left:595.10px;top:436.92px;font-size:10.00px;font-family:'Liberation Sans',sans-serif;font-weight:400;color:#e06b78;letter-spacing:0em;transform:scaleX(0.890);-webkit-text-stroke:0.12px #e06b78;">9.6</div><div class="t" style="left:432.68px;top:456.38px;font-size:10.00px;font-family:'Liberation Sans',sans-serif;font-weight:400;color:#5ba0d6;letter-spacing:0em;transform:scaleX(0.890);-webkit-text-stroke:0.12px #5ba0d6;">6.6</div><div class="t" style="left:583.80px;top:456.38px;font-size:10.00px;font-family:'Liberation Sans',sans-serif;font-weight:400;color:#e06b78;letter-spacing:0em;transform:scaleX(0.890);-webkit-text-stroke:0.12px #e06b78;">6.6</div><div class="t" style="left:446.89px;top:474.84px;font-size:10.00px;font-family:'Liberation Sans',sans-serif;font-weight:400;color:#5ba0d6;letter-spacing:0em;transform:scaleX(0.890);-webkit-text-stroke:0.12px #5ba0d6;">2.7</div><div class="t" style="left:613.53px;top:474.84px;font-size:10.00px;font-family:'Liberation Sans',sans-serif;font-weight:400;color:#e06b78;letter-spacing:0em;transform:scaleX(0.890);-webkit-text-stroke:0.12px #e06b78;">15.0</div><div class="t" style="left:438.07px;top:494.20px;font-size:10.00px;font-family:'Liberation Sans',sans-serif;font-weight:400;color:#5ba0d6;letter-spacing:0em;transform:scaleX(0.890);-webkit-text-stroke:0.12px #5ba0d6;">5.1</div><div class="t" style="left:582.67px;top:494.30px;font-size:10.00px;font-family:'Liberation Sans',sans-serif;font-weight:400;color:#e06b78;letter-spacing:0em;transform:scaleX(0.890);-webkit-text-stroke:0.12px #e06b78;">6.3</div><div class="t" style="left:430.64px;top:513.76px;font-size:10.00px;font-family:'Liberation Sans',sans-serif;font-weight:400;color:#5ba0d6;letter-spacing:0em;transform:scaleX(0.890);-webkit-text-stroke:0.12px #5ba0d6;">7.3</div><div class="t" style="left:594.39px;top:513.76px;font-size:10.00px;font-family:'Liberation Sans',sans-serif;font-weight:400;color:#e06b78;letter-spacing:0em;transform:scaleX(0.890);-webkit-text-stroke:0.12px #e06b78;">9.5</div><div class="t" style="left:407.15px;top:533.22px;font-size:10.00px;font-family:'Liberation Sans',sans-serif;font-weight:400;color:#5ba0d6;letter-spacing:0em;transform:scaleX(0.890);-webkit-text-stroke:0.12px #5ba0d6;">12.2</div><div class="t" style="left:610.94px;top:533.12px;font-size:10.00px;font-family:'Liberation Sans',sans-serif;font-weight:400;color:#e06b78;letter-spacing:0em;transform:scaleX(0.890);-webkit-text-stroke:0.12px #e06b78;">14.5</div><div class="t" style="left:431.21px;top:551.58px;font-size:10.00px;font-family:'Liberation Sans',sans-serif;font-weight:400;color:#5ba0d6;letter-spacing:0em;transform:scaleX(0.890);-webkit-text-stroke:0.12px #5ba0d6;">7.1</div><div class="t" style="left:594.39px;top:551.68px;font-size:10.00px;font-family:'Liberation Sans',sans-serif;font-weight:400;color:#e06b78;letter-spacing:0em;transform:scaleX(0.890);-webkit-text-stroke:0.12px #e06b78;">9.5</div><div class="t" style="left:400.91px;top:571.14px;font-size:10.00px;font-family:'Liberation Sans',sans-serif;font-weight:400;color:#5ba0d6;letter-spacing:0em;transform:scaleX(0.890);-webkit-text-stroke:0.12px #5ba0d6;">13.9</div><div class="t" style="left:621.11px;top:571.14px;font-size:10.00px;font-family:'Liberation Sans',sans-serif;font-weight:400;color:#e06b78;letter-spacing:0em;transform:scaleX(0.890);-webkit-text-stroke:0.12px #e06b78;">17.2</div><div class="t" style="left:411.07px;top:590.60px;font-size:10.00px;font-family:'Liberation Sans',sans-serif;font-weight:400;color:#5ba0d6;letter-spacing:0em;transform:scaleX(0.890);-webkit-text-stroke:0.12px #5ba0d6;">11.3</div><div class="t" style="left:621.62px;top:590.50px;font-size:10.00px;font-family:'Liberation Sans',sans-serif;font-weight:400;color:#e06b78;letter-spacing:0em;transform:scaleX(0.890);-webkit-text-stroke:0.12px #e06b78;">17.4</div><div class="t" style="left:407.43px;top:610.06px;font-size:10.00px;font-family:'Liberation Sans',sans-serif;font-weight:400;color:#5ba0d6;letter-spacing:0em;transform:scaleX(0.890);-webkit-text-stroke:0.12px #5ba0d6;">12.3</div><div class="t" style="left:602.62px;top:610.06px;font-size:10.00px;font-family:'Liberation Sans',sans-serif;font-weight:400;color:#e06b78;letter-spacing:0em;transform:scaleX(0.890);-webkit-text-stroke:0.12px #e06b78;">11.9</div><div class="t" style="left:424.09px;top:628.52px;font-size:10.00px;font-family:'Liberation Sans',sans-serif;font-weight:400;color:#5ba0d6;letter-spacing:0em;transform:scaleX(0.890);-webkit-text-stroke:0.12px #5ba0d6;">9.2</div><div class="t" style="left:598.38px;top:628.52px;font-size:10.00px;font-family:'Liberation Sans',sans-serif;font-weight:400;color:#e06b78;letter-spacing:0em;transform:scaleX(0.890);-webkit-text-stroke:0.12px #e06b78;">10.9</div><div class="t" style="left:422.08px;top:647.98px;font-size:10.00px;font-family:'Liberation Sans',sans-serif;font-weight:400;color:#5ba0d6;letter-spacing:0em;transform:scaleX(0.890);-webkit-text-stroke:0.12px #5ba0d6;">9.6</div><div class="t" style="left:612.78px;top:647.98px;font-size:10.00px;font-family:'Liberation Sans',sans-serif;font-weight:400;color:#e06b78;letter-spacing:0em;transform:scaleX(0.890);-webkit-text-stroke:0.12px #e06b78;">14.9</div><div class="t" style="left:406.44px;top:667.44px;font-size:10.00px;font-family:'Liberation Sans',sans-serif;font-weight:400;color:#5ba0d6;letter-spacing:0em;transform:scaleX(0.890);-webkit-text-stroke:0.12px #5ba0d6;">12.4</div><div class="t" style="left:616.63px;top:667.44px;font-size:10.00px;font-family:'Liberation Sans',sans-serif;font-weight:400;color:#e06b78;letter-spacing:0em;transform:scaleX(0.890);-webkit-text-stroke:0.12px #e06b78;">16.0</div><div class="t" style="left:401.63px;top:686.90px;font-size:10.00px;font-family:'Liberation Sans',sans-serif;font-weight:400;color:#5ba0d6;letter-spacing:0em;transform:scaleX(0.890);-webkit-text-stroke:0.12px #5ba0d6;">13.8</div><div class="t" style="left:619.98px;top:686.90px;font-size:10.00px;font-family:'Liberation Sans',sans-serif;font-weight:400;color:#e06b78;letter-spacing:0em;transform:scaleX(0.890);-webkit-text-stroke:0.12px #e06b78;">16.9</div><div class="t" style="left:443.46px;top:706.36px;font-size:10.00px;font-family:'Liberation Sans',sans-serif;font-weight:400;color:#5ba0d6;letter-spacing:0em;transform:scaleX(0.890);-webkit-text-stroke:0.12px #5ba0d6;">3.5</div><div class="t" style="left:578.96px;top:706.26px;font-size:10.00px;font-family:'Liberation Sans',sans-serif;font-weight:400;color:#e06b78;letter-spacing:0em;transform:scaleX(0.890);-webkit-text-stroke:0.12px #e06b78;">5.4</div><div class="t" style="left:401.06px;top:724.82px;font-size:10.00px;font-family:'Liberation Sans',sans-serif;font-weight:400;color:#5ba0d6;letter-spacing:0em;transform:scaleX(0.890);-webkit-text-stroke:0.12px #5ba0d6;">14.0</div><div class="t" style="left:617.01px;top:724.82px;font-size:10.00px;font-family:'Liberation Sans',sans-serif;font-weight:400;color:#e06b78;letter-spacing:0em;transform:scaleX(0.890);-webkit-text-stroke:0.12px #e06b78;">16.2</div><div class="t" style="left:414.55px;top:744.28px;font-size:10.00px;font-family:'Liberation Sans',sans-serif;font-weight:400;color:#5ba0d6;letter-spacing:0em;transform:scaleX(0.890);-webkit-text-stroke:0.12px #5ba0d6;">10.2</div><div class="t" style="left:607.84px;top:744.28px;font-size:10.00px;font-family:'Liberation Sans',sans-serif;font-weight:400;color:#e06b78;letter-spacing:0em;transform:scaleX(0.890);-webkit-text-stroke:0.12px #e06b78;">13.5</div><div class="t" style="left:504.41px;top:398.31px;font-size:9.40px;font-family:'Liberation Sans','Noto Sans CJK KR',sans-serif;font-weight:500;color:#3d3d3d;letter-spacing:0em;transform:scaleX(0.830);">전산업</div><div class="t" style="left:499.82px;top:418.25px;font-size:9.40px;font-family:'Liberation Sans','Noto Sans CJK KR',sans-serif;font-weight:500;color:#3d3d3d;letter-spacing:0em;transform:scaleX(0.830);">농림어업</div><div class="t" style="left:507.53px;top:437.19px;font-size:9.40px;font-family:'Liberation Sans','Noto Sans CJK KR',sans-serif;font-weight:500;color:#3d3d3d;letter-spacing:0em;transform:scaleX(0.830);">광업</div><div class="t" style="left:504.95px;top:455.13px;font-size:9.40px;font-family:'Liberation Sans','Noto Sans CJK KR',sans-serif;font-weight:500;color:#3d3d3d;letter-spacing:0em;transform:scaleX(0.830);">제조업</div><div class="t" style="left:485.70px;top:476.07px;font-size:9.40px;font-family:'Liberation Sans','Noto Sans CJK KR',sans-serif;font-weight:500;color:#3d3d3d;letter-spacing:0em;transform:scaleX(0.830);">전기 · 가스 · 증기</div><div class="t" style="left:485.70px;top:495.01px;font-size:9.40px;font-family:'Liberation Sans','Noto Sans CJK KR',sans-serif;font-weight:500;color:#3d3d3d;letter-spacing:0em;transform:scaleX(0.830);">수도 · 하수 · 폐기</div><div class="t" style="left:504.37px;top:512.95px;font-size:9.40px;font-family:'Liberation Sans','Noto Sans CJK KR',sans-serif;font-weight:500;color:#3d3d3d;letter-spacing:0em;transform:scaleX(0.830);">건설업</div><div class="t" style="left:496.85px;top:532.89px;font-size:9.40px;font-family:'Liberation Sans','Noto Sans CJK KR',sans-serif;font-weight:500;color:#3d3d3d;letter-spacing:0em;transform:scaleX(0.830);">도 · 소매업</div><div class="t" style="left:492.76px;top:551.83px;font-size:9.40px;font-family:'Liberation Sans','Noto Sans CJK KR',sans-serif;font-weight:500;color:#3d3d3d;letter-spacing:0em;transform:scaleX(0.830);">운수 · 창고업</div><div class="t" style="left:489.67px;top:570.77px;font-size:9.40px;font-family:'Liberation Sans','Noto Sans CJK KR',sans-serif;font-weight:500;color:#3d3d3d;letter-spacing:0em;transform:scaleX(0.830);">숙박 · 음식점업</div><div class="t" style="left:496.73px;top:589.71px;font-size:9.40px;font-family:'Liberation Sans','Noto Sans CJK KR',sans-serif;font-weight:500;color:#3d3d3d;letter-spacing:0em;transform:scaleX(0.830);">정보통신업</div><div class="t" style="left:492.76px;top:608.74px;font-size:9.40px;font-family:'Liberation Sans','Noto Sans CJK KR',sans-serif;font-weight:500;color:#3d3d3d;letter-spacing:0em;transform:scaleX(0.830);">금융 · 보험업</div><div class="t" style="left:499.82px;top:627.59px;font-size:9.40px;font-family:'Liberation Sans','Noto Sans CJK KR',sans-serif;font-weight:500;color:#3d3d3d;letter-spacing:0em;transform:scaleX(0.830);">부동산업</div><div class="t" style="left:486.92px;top:646.53px;font-size:9.40px;font-family:'Liberation Sans','Noto Sans CJK KR',sans-serif;font-weight:500;color:#3d3d3d;letter-spacing:0em;transform:scaleX(0.830);">전문 · 과학 · 기술</div><div class="t" style="left:489.63px;top:665.47px;font-size:9.40px;font-family:'Liberation Sans','Noto Sans CJK KR',sans-serif;font-weight:500;color:#3d3d3d;letter-spacing:0em;transform:scaleX(0.830);">사업시설관리업</div><div class="t" style="left:493.64px;top:684.41px;font-size:9.40px;font-family:'Liberation Sans','Noto Sans CJK KR',sans-serif;font-weight:500;color:#3d3d3d;letter-spacing:0em;transform:scaleX(0.830);">교육서비스업</div><div class="t" style="left:489.67px;top:703.35px;font-size:9.40px;font-family:'Liberation Sans','Noto Sans CJK KR',sans-serif;font-weight:500;color:#3d3d3d;letter-spacing:0em;transform:scaleX(0.830);">보건 · 사회복지</div><div class="t" style="left:482.72px;top:722.29px;font-size:9.40px;font-family:'Liberation Sans','Noto Sans CJK KR',sans-serif;font-weight:500;color:#3d3d3d;letter-spacing:0em;transform:scaleX(0.830);">예술 · <span style="text-decoration:underline;text-decoration-color:#777;text-decoration-thickness:0.8px;text-underline-offset:1.5px">스포츠</span> · 여가</div><div class="t" style="left:492.55px;top:741.23px;font-size:9.40px;font-family:'Liberation Sans','Noto Sans CJK KR',sans-serif;font-weight:500;color:#3d3d3d;letter-spacing:0em;transform:scaleX(0.830);">개인 서비스업</div><div class="t" style="left:469.57px;top:764.34px;font-size:10.42px;font-family:'Liberation Sans',sans-serif;font-weight:400;color:#333;letter-spacing:0em;transform:scaleX(1.039);-webkit-text-stroke:0.3px #333;">0</div><div class="t" style="left:430.96px;top:765.34px;font-size:10.42px;font-family:'Liberation Sans',sans-serif;font-weight:400;color:#333;letter-spacing:0em;transform:scaleX(1.008);-webkit-text-stroke:0.3px #333;">10</div><div class="t" style="left:396.19px;top:765.34px;font-size:10.42px;font-family:'Liberation Sans',sans-serif;font-weight:400;color:#333;letter-spacing:0em;transform:scaleX(0.978);-webkit-text-stroke:0.3px #333;">20</div><div class="t" style="left:360.70px;top:765.34px;font-size:10.42px;font-family:'Liberation Sans',sans-serif;font-weight:400;color:#333;letter-spacing:0em;transform:scaleX(0.969);-webkit-text-stroke:0.3px #333;">30</div><div class="t" style="left:553.57px;top:764.34px;font-size:10.42px;font-family:'Liberation Sans',sans-serif;font-weight:400;color:#333;letter-spacing:0em;transform:scaleX(1.039);-webkit-text-stroke:0.3px #333;">0</div><div class="t" style="left:586.16px;top:765.34px;font-size:10.42px;font-family:'Liberation Sans',sans-serif;font-weight:400;color:#333;letter-spacing:0em;transform:scaleX(1.008);-webkit-text-stroke:0.3px #333;">10</div><div class="t" style="left:621.59px;top:765.34px;font-size:10.42px;font-family:'Liberation Sans',sans-serif;font-weight:400;color:#333;letter-spacing:0em;transform:scaleX(0.978);-webkit-text-stroke:0.3px #333;">20</div><div class="t" style="left:657.30px;top:765.34px;font-size:10.42px;font-family:'Liberation Sans',sans-serif;font-weight:400;color:#333;letter-spacing:0em;transform:scaleX(0.969);-webkit-text-stroke:0.3px #333;">30</div><div class="t" style="left:296.33px;top:731.18px;font-size:24.62px;font-family:'Noto Sans CJK KR',sans-serif;font-weight:700;color:rgba(255,255,255,0.92);letter-spacing:0em;transform:scaleX(1.150);text-shadow:0 0 1px rgba(90,90,90,0.9),1px 1px 1px rgba(60,60,60,0.45);">경향신문</div></body></html>
